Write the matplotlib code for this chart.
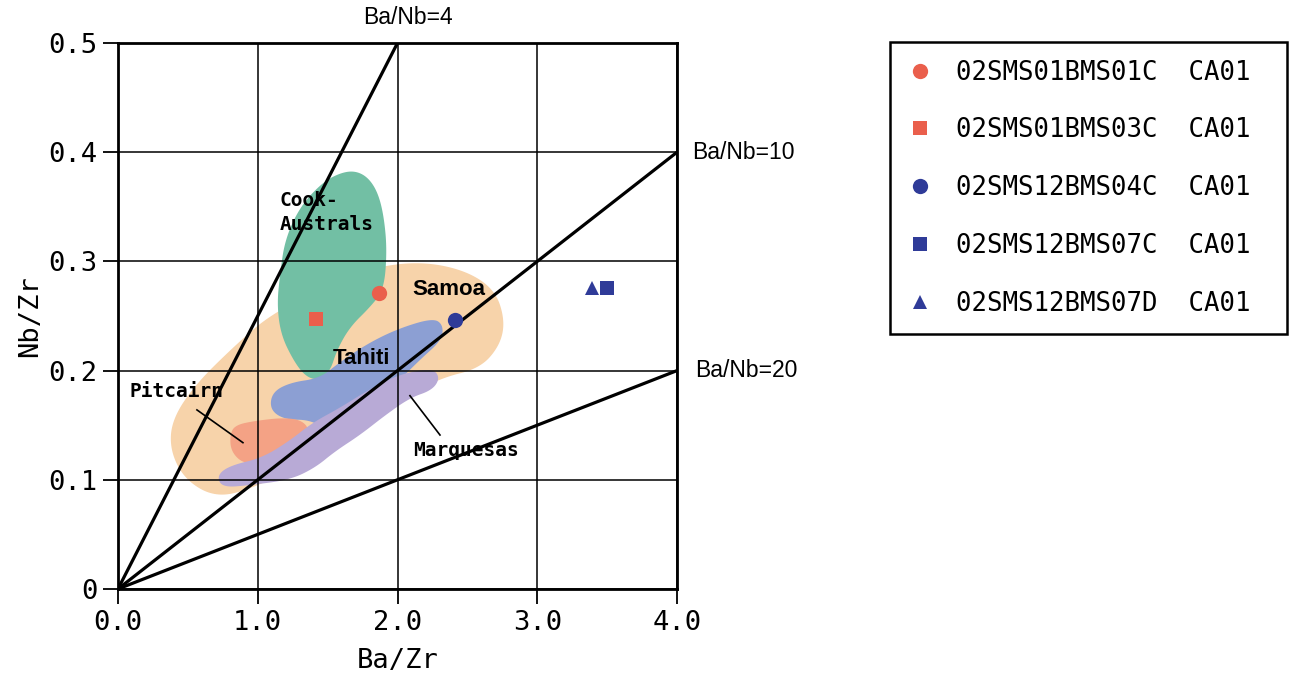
import numpy as np
import matplotlib
matplotlib.use("Agg")
import matplotlib.pyplot as plt
from matplotlib.patches import Polygon

# ---- sample data -------------------------------------------------------
sample_names = ["02SMS01BMS01C  CA01", "02SMS01BMS03C  CA01", "02SMS12BMS04C  CA01",
                "02SMS12BMS07C  CA01", "02SMS12BMS07D  CA01"]
ba_zr = [1.87, 1.42, 2.41, 3.50, 3.39]
nb_zr = [0.271, 0.247, 0.246, 0.276, 0.276]
sample_markers = ["o", "s", "o", "s", "^"]
sample_colors = ["#ea5f4c", "#ea5f4c", "#2f3b98", "#2f3b98", "#2f3b98"]
sample_sizes = [11, 9.5, 11, 9.5, 9.5]

# ---- Ba/Nb reference ratios -------------------------------------------
ba_nb_ratios = [4, 10, 20]

# ---- OIB field outlines (Ba/Zr, Nb/Zr) ---------------------------------
samoa_x = [0.694, 0.479, 0.372, 0.386, 0.551, 0.837, 1.088, 1.445, 1.803, 2.161,
           2.483, 2.698, 2.769, 2.733, 2.590, 2.304, 2.018, 1.732, 1.302, 0.945]
samoa_y = [0.084, 0.100, 0.127, 0.155, 0.187, 0.223, 0.251, 0.274, 0.294, 0.300,
           0.292, 0.274, 0.246, 0.223, 0.202, 0.193, 0.173, 0.146, 0.114, 0.091]

cook_x = [1.696, 1.789, 1.860, 1.903, 1.925, 1.903, 1.803, 1.660, 1.567, 1.517,
          1.431, 1.338, 1.252, 1.166, 1.138, 1.159, 1.195, 1.302, 1.460, 1.589]
cook_y = [0.383, 0.377, 0.363, 0.341, 0.310, 0.274, 0.258, 0.240, 0.219, 0.199,
          0.191, 0.195, 0.210, 0.233, 0.260, 0.288, 0.320, 0.350, 0.372, 0.381]

tahiti_x = [2.254, 2.326, 2.318, 2.161, 1.982, 1.803, 1.696, 1.517, 1.374, 1.195,
            1.088, 1.102, 1.231, 1.445, 1.589, 1.803, 2.018]
tahiti_y = [0.248, 0.242, 0.228, 0.210, 0.187, 0.159, 0.144, 0.144, 0.155, 0.155,
            0.164, 0.180, 0.189, 0.193, 0.208, 0.226, 0.239]

pitcairn_x = [0.837, 0.980, 1.195, 1.324, 1.374, 1.302, 1.159, 1.030, 0.894, 0.809, 0.801]
pitcairn_y = [0.150, 0.154, 0.157, 0.154, 0.144, 0.129, 0.122, 0.115, 0.115, 0.126, 0.141]

marq_x = [2.254, 2.304, 2.247, 2.089, 1.911, 1.732, 1.553, 1.410, 1.231, 0.945,
          0.744, 0.708, 0.801, 1.030, 1.231, 1.388, 1.589, 1.789, 2.018]
marq_y = [0.202, 0.193, 0.182, 0.175, 0.159, 0.141, 0.126, 0.111, 0.100, 0.095,
          0.093, 0.104, 0.113, 0.120, 0.136, 0.152, 0.166, 0.182, 0.197]

fields = [
    (samoa_x, samoa_y, "#f7d3aa"),
    (cook_x, cook_y, "#72bfa4"),
    (tahiti_x, tahiti_y, "#8c9fd3"),
    (pitcairn_x, pitcairn_y, "#f4a285"),
    (marq_x, marq_y, "#b8aad6"),
]

x_ticks = [0.0, 1.0, 2.0, 3.0, 4.0]
x_tick_labels = ["0.0", "1.0", "2.0", "3.0", "4.0"]
y_ticks = [0.0, 0.1, 0.2, 0.3, 0.4, 0.5]
y_tick_labels = ["0", "0.1", "0.2", "0.3", "0.4", "0.5"]

MONO = "DejaVu Sans Mono"
SANS = "Liberation Sans"


def rounded(xs, ys, passes=4):
    """Chaikin corner cutting to give the field outlines soft edges."""
    pts = np.column_stack([xs, ys]).astype(float)
    for _ in range(passes):
        nxt = np.roll(pts, -1, axis=0)
        out = np.empty((2 * len(pts), 2))
        out[0::2] = 0.75 * pts + 0.25 * nxt
        out[1::2] = 0.25 * pts + 0.75 * nxt
        pts = out
    return pts


fig = plt.figure(figsize=(12.95, 6.9), dpi=100)
ax = fig.add_axes([0.0911, 0.1464, 0.4317, 0.7913])

for fx, fy, col in fields:
    ax.add_patch(Polygon(rounded(fx, fy), closed=True, facecolor=col,
                         edgecolor="none", zorder=1))

# reference lines through the origin
for r in ba_nb_ratios:
    xe = min(4.0, 0.5 * r)
    ax.plot([0, xe], [0, xe / r], color="black", lw=2.3, zorder=3,
            solid_capstyle="butt")

# leader lines for field labels
ax.plot([0.565, 0.894], [0.164, 0.134], color="black", lw=1.2, zorder=3)
ax.plot([2.089, 2.304], [0.177, 0.141], color="black", lw=1.2, zorder=3)

handles = []
for x, y, m, c, s, name in zip(ba_zr, nb_zr, sample_markers, sample_colors,
                               sample_sizes, sample_names):
    h, = ax.plot([x], [y], linestyle="none", marker=m, color=c, ms=s,
                 markeredgewidth=0, zorder=5, label=name)
    handles.append(h)

ax.set_xlim(0, 4)
ax.set_ylim(0, 0.5)
ax.set_xticks(x_ticks)
ax.set_xticklabels(x_tick_labels, family=MONO, fontsize=19.5)
ax.set_yticks(y_ticks)
ax.set_yticklabels(y_tick_labels, family=MONO, fontsize=19.5)
ax.tick_params(length=11, width=1.3, pad=4, direction="out")
ax.set_axisbelow(False)
ax.grid(True, color="black", lw=1.1, zorder=2)
for sp in ax.spines.values():
    sp.set_linewidth(2.0)
    sp.set_zorder(4)

ax.set_xlabel("Ba/Zr", family=MONO, fontsize=19.5)
ax.set_ylabel("Nb/Zr", family=MONO, fontsize=19.5)
ax.xaxis.set_label_coords(0.5, -0.108)
ax.yaxis.set_label_coords(-0.157, 0.5)
ax.yaxis.label.set_va("center")

# ratio labels
ax.text(2.075, 0.523, "Ba/Nb=4", family=SANS, fontsize=16.5, ha="center",
        va="center", clip_on=False)
ax.text(4.107, 0.400, "Ba/Nb=10", family=SANS, fontsize=16.5, ha="left",
        va="center", clip_on=False)
ax.text(4.129, 0.2005, "Ba/Nb=20", family=SANS, fontsize=16.5, ha="left",
        va="center", clip_on=False)

# field labels
lab = dict(fontweight="bold", zorder=6)
ax.text(1.159, 0.356, "Cook-", family=MONO, fontsize=14, ha="left", va="center", **lab)
ax.text(1.159, 0.334, "Australs", family=MONO, fontsize=14, ha="left", va="center", **lab)
ax.text(2.369, 0.2747, "Samoa", family=SANS, fontsize=16, ha="center", va="center", **lab)
ax.text(1.739, 0.2115, "Tahiti", family=SANS, fontsize=16, ha="center", va="center", **lab)
ax.text(0.086, 0.1804, "Pitcairn", family=MONO, fontsize=14, ha="left", va="center", **lab)
ax.text(2.111, 0.1264, "Marquesas", family=MONO, fontsize=14, ha="left", va="center", **lab)

leg = fig.legend(handles=handles, loc="upper left",
                 bbox_to_anchor=(0.687, 0.939 - 0.4246, 0.3066, 0.4246), mode="expand",
                 prop={"family": MONO, "size": 18.5}, frameon=True, fancybox=False,
                 edgecolor="black", framealpha=1, borderpad=0.68, labelspacing=1.24,
                 handlelength=1.0, handletextpad=0.9, borderaxespad=0)
leg.get_frame().set_linewidth(1.8)

fig.savefig("out.png", dpi=100)
